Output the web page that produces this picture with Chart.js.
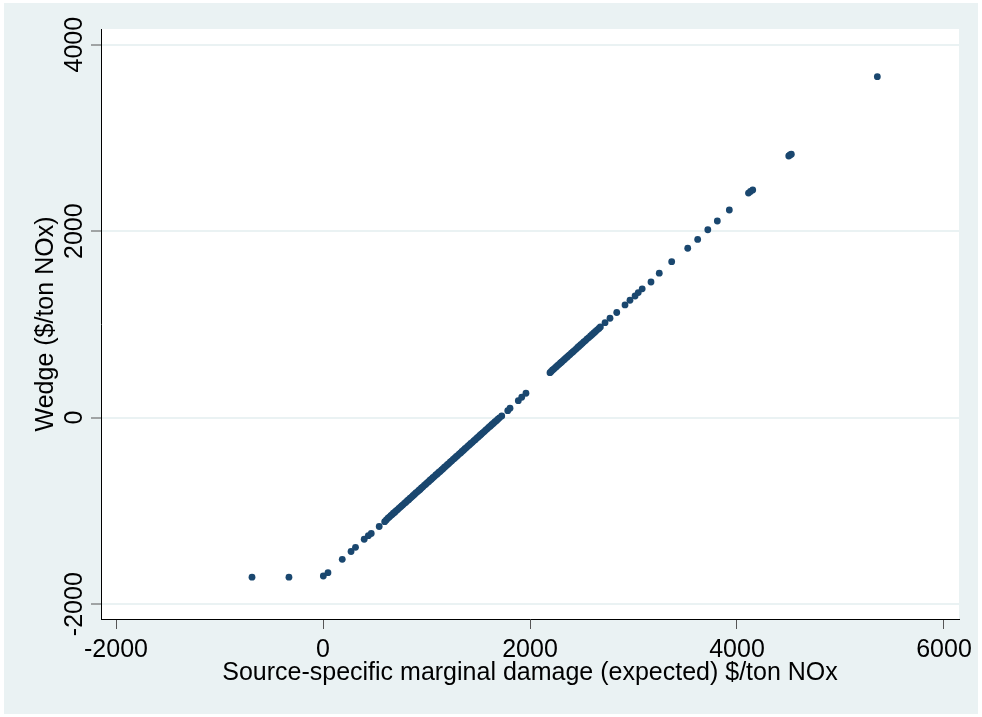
<!DOCTYPE html>
<html lang="en">
<head>
    <meta charset="UTF-8">
    <title>Wedge vs marginal damage</title>
    <script src="https://cdn.jsdelivr.net/npm/chart.js"></script>
    <style>
        body { margin: 0; background: #fff; }
        #wrap { width: 982px; height: 717px; }
    </style>
</head>
<body>
    <div id="wrap"><canvas id="scatterChart" width="982" height="717"></canvas></div>

    <script>
        // source-specific marginal damage ($/ton NOx)
        const marginalDamage = [
            -686, -329, 3, 48, 186, 271, 314, 398, 438, 466, 543, 596, 612,
            628, 641, 655, 668, 680, 694, 706, 719, 733, 748, 760, 772, 787, 801, 815, 828, 842, 856, 869, 883,
            897, 912, 925, 938, 951, 965, 979, 993, 1006, 1020, 1034, 1047, 1061, 1075, 1090, 1104, 1117, 1131,
            1146, 1160, 1174, 1188, 1201, 1215, 1230, 1244, 1258, 1272, 1287, 1300, 1315, 1329, 1343, 1358,
            1372, 1386, 1400, 1414, 1428, 1443, 1457, 1471, 1486, 1500, 1515, 1529, 1543, 1558, 1572, 1587,
            1601, 1616, 1630, 1645, 1660, 1675, 1690, 1705,
            1727, 1785, 1807, 1887, 1920, 1961,
            2193, 2205, 2218, 2230, 2242, 2255, 2268, 2281, 2294, 2306, 2320, 2333, 2346, 2360, 2373, 2386,
            2400, 2414, 2428, 2445, 2460, 2475, 2490, 2506, 2520, 2536, 2552, 2568, 2585, 2601, 2617, 2633,
            2650, 2666, 2680,
            2725, 2773, 2838, 2918, 2966, 3015, 3046, 3084, 3169, 3249, 3369, 3524, 3620, 3718, 3810, 3926,
            4111, 4130, 4152, 4500, 4512, 4525, 5356
        ];
        // wedge ($/ton NOx)
        const wedge = [
            -1710, -1710, -1698, -1662, -1519, -1435, -1390, -1304, -1265, -1242, -1167, -1115, -1097,
            -1077, -1066, -1050, -1039, -1025, -1013, -999, -988, -972, -959, -945, -935, -918, -906, -890, -879, -863, -851, -836, -824,
            -808, -795, -780, -769, -754, -742, -726, -714, -699, -687, -671, -660, -644, -632, -615, -603, -588, -576,
            -560, -547, -531, -519, -504, -492, -475, -463, -447, -435, -418, -407, -390, -378, -362, -349,
            -333, -321, -305, -293, -277, -264, -248, -236, -219, -207, -190, -178, -162, -149, -133, -120,
            -104, -91, -75, -62, -46, -32, -16, -2,
            18, 75, 101, 182, 219, 262,
            483, 496, 511, 521, 535, 546, 561, 572, 587, 597, 612, 624, 639, 651, 666, 677,
            693, 705, 720, 736, 753, 766, 783, 797, 813, 827, 845, 859, 877, 892, 909, 924,
            942, 957, 973,
            1019, 1066, 1128, 1209, 1259, 1305, 1341, 1382, 1455, 1549, 1673, 1817, 1911, 2015, 2109, 2227,
            2408, 2426, 2442, 2806, 2817, 2825, 3657
        ];
        const xTicks = [-2000, 0, 2000, 4000, 6000];
        const yTicks = [-2000, 0, 2000, 4000];

        const fontFamily = 'Arial, "Liberation Sans", sans-serif';
        const fontSize = 25;
        const bgColor = '#EAF2F3';

        const points = marginalDamage.map((x, i) => ({ x: x, y: wedge[i] }));

        // stata-like frame: light outer background, white plot region, rotated y tick labels
        const stataLook = {
            id: 'stataLook',
            beforeDraw(chart) {
                const { ctx, chartArea: a } = chart;
                ctx.save();
                ctx.fillStyle = '#fff';
                ctx.fillRect(0, 0, chart.width, chart.height);
                ctx.fillStyle = bgColor;
                ctx.fillRect(4, 3, chart.width - 8, chart.height - 6);
                ctx.fillStyle = '#fff';
                ctx.fillRect(a.left, a.top, a.right - a.left, a.bottom - a.top);
                ctx.restore();
            },
            afterDraw(chart) {
                const { ctx } = chart;
                const y = chart.scales.y;
                ctx.save();
                ctx.fillStyle = '#000';
                ctx.font = fontSize + 'px ' + fontFamily;
                ctx.textAlign = 'center';
                ctx.textBaseline = 'alphabetic';
                yTicks.forEach(v => {
                    ctx.save();
                    ctx.translate(82, y.getPixelForValue(v));
                    ctx.rotate(-Math.PI / 2);
                    ctx.fillText(String(v), 0, 0);
                    ctx.restore();
                });
                ctx.restore();
            }
        };

        new Chart(document.getElementById('scatterChart'), {
            type: 'scatter',
            data: {
                datasets: [{
                    data: points,
                    backgroundColor: '#1a476f',
                    borderWidth: 0,
                    pointRadius: 3.4,
                    pointHoverRadius: 3.4
                }]
            },
            options: {
                responsive: false,
                animation: false,
                events: [],
                layout: { padding: { top: 29, right: 23, left: 0, bottom: 0 } },
                plugins: { legend: { display: false }, tooltip: { enabled: false } },
                scales: {
                    x: {
                        type: 'linear',
                        min: -2145,
                        max: 6145,
                        afterBuildTicks: s => { s.ticks = xTicks.map(v => ({ value: v })); },
                        afterFit: s => { s.height = 98; },
                        border: { color: '#000', width: 1 },
                        grid: { drawOnChartArea: false, tickLength: 10, tickColor: '#555', tickWidth: 1 },
                        ticks: {
                            color: '#000',
                            font: { family: fontFamily, size: fontSize },
                            padding: 6,
                            maxRotation: 0,
                            callback: v => String(v)
                        },
                        title: {
                            display: true,
                            text: 'Source-specific marginal damage (expected) $/ton NOx',
                            color: '#000',
                            font: { family: fontFamily, size: fontSize },
                            padding: { top: 0, bottom: 29 }
                        }
                    },
                    y: {
                        type: 'linear',
                        min: -2159,
                        max: 4168,
                        afterBuildTicks: s => { s.ticks = yTicks.map(v => ({ value: v })); },
                        afterFit: s => { s.width = 101; },
                        border: { color: '#000', width: 1 },
                        grid: { color: bgColor, lineWidth: 2, tickLength: 10, tickColor: '#555', tickWidth: 1 },
                        ticks: { display: false },
                        title: {
                            display: true,
                            text: 'Wedge ($/ton NOx)',
                            color: '#000',
                            font: { family: fontFamily, size: fontSize },
                            padding: { top: 31, bottom: 0 }
                        }
                    }
                }
            },
            plugins: [stataLook]
        });
    </script>
</body>
</html>
